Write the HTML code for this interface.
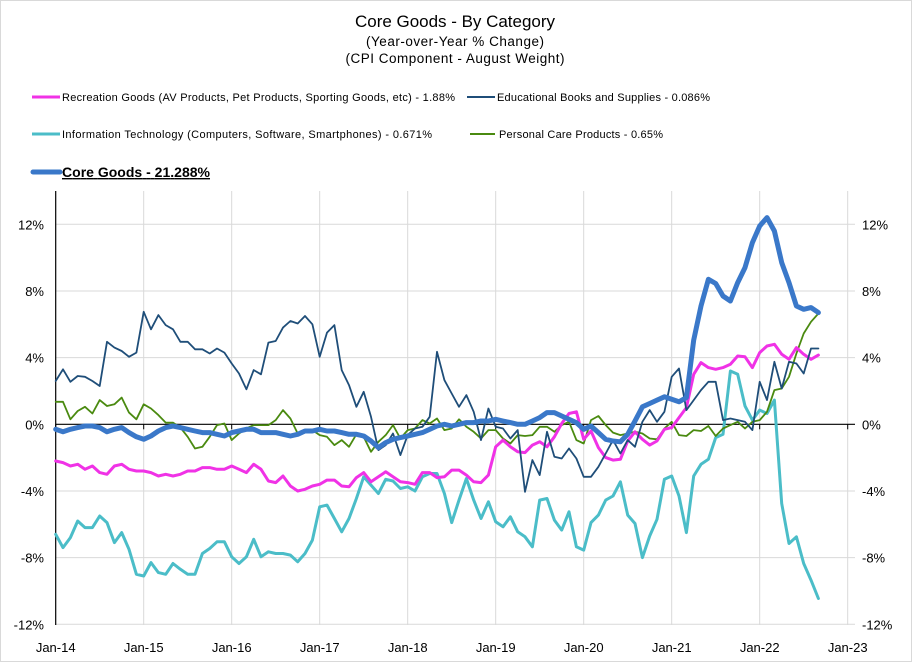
<!DOCTYPE html>
<html><head><meta charset="utf-8"><style>
body{margin:0;background:#fff}
svg{display:block;font-family:"Liberation Sans",sans-serif}
</style></head><body>
<svg id="chart" width="912" height="662" viewBox="0 0 912 662" xmlns="http://www.w3.org/2000/svg">
<rect x="0.5" y="0.5" width="911" height="661" fill="#fff" stroke="#d9d9d9"/>
<text x="455" y="27" text-anchor="middle" font-size="17" textLength="200">Core Goods - By Category</text>
<text x="455" y="46" text-anchor="middle" font-size="13.5" textLength="178">(Year-over-Year % Change)</text>
<text x="455" y="63" text-anchor="middle" font-size="13.5" textLength="219">(CPI Component - August Weight)</text>
<g>
<g><line x1="32" y1="97" x2="60" y2="97" stroke="#f032e6" stroke-width="3"/><text x="62" y="101" font-size="11" textLength="393">Recreation Goods (AV Products, Pet Products, Sporting Goods, etc) - 1.88%</text></g>
<g><line x1="467" y1="97" x2="495" y2="97" stroke="#1f4e79" stroke-width="2"/><text x="497" y="101" font-size="11" textLength="213">Educational Books and Supplies - 0.086%</text></g>
<g><line x1="32" y1="134" x2="60" y2="134" stroke="#4bbdc8" stroke-width="3"/><text x="62" y="138" font-size="11" textLength="370">Information Technology (Computers, Software, Smartphones) - 0.671%</text></g>
<g><line x1="470" y1="134" x2="495" y2="134" stroke="#4a8a10" stroke-width="2"/><text x="499" y="138" font-size="11" textLength="164">Personal Care Products - 0.65%</text></g>
<g><line x1="33" y1="172" x2="60" y2="172" stroke="#3a78c9" stroke-width="5" stroke-linecap="round"/><text x="62" y="177" font-size="14" font-weight="bold" text-decoration="underline" textLength="148">Core Goods - 21.288%</text></g>
</g>
<g id="grid"></g>
<g id="axes"></g>
<g id="series"></g>
</svg>
<script>
const yTicks=[12,8,4,0,-4,-8,-12];
const xTickLabels=["Jan-14","Jan-15","Jan-16","Jan-17","Jan-18","Jan-19","Jan-20","Jan-21","Jan-22","Jan-23"];
const coreGoods=[-0.3,-0.45,-0.3,-0.2,-0.1,-0.1,-0.2,-0.45,-0.3,-0.2,-0.5,-0.75,
-0.9,-0.7,-0.4,-0.2,-0.1,-0.2,-0.3,-0.4,-0.5,-0.5,-0.6,-0.7,
-0.5,-0.4,-0.3,-0.3,-0.5,-0.5,-0.5,-0.6,-0.7,-0.6,-0.4,-0.4,
-0.3,-0.4,-0.4,-0.5,-0.6,-0.6,-0.7,-1.0,-1.4,-1.1,-0.9,-0.8,
-0.7,-0.6,-0.5,-0.3,-0.1,0.0,-0.1,0.0,0.1,0.1,0.2,0.2,
0.3,0.2,0.1,0.0,0.0,0.2,0.4,0.7,0.7,0.5,0.3,0.1,
-0.3,-0.1,-0.5,-0.9,-1.0,-1.05,-0.6,0.2,1.05,1.25,1.45,1.65,
1.5,1.35,1.6,5.05,7.1,8.7,8.45,7.7,7.4,8.5,9.4,10.9,
11.9,12.4,11.6,9.7,8.5,7.1,6.9,7.0,6.7];
const recreation=[-2.2,-2.3,-2.5,-2.4,-2.7,-2.5,-2.9,-3.0,-2.5,-2.4,-2.7,-2.8,
-2.8,-2.9,-3.1,-3.0,-3.1,-3.0,-2.8,-2.8,-2.6,-2.6,-2.7,-2.7,
-2.5,-2.7,-2.9,-2.4,-2.7,-3.4,-3.5,-3.1,-3.7,-4.0,-3.9,-3.7,
-3.6,-3.35,-3.35,-3.7,-3.75,-3.2,-2.9,-3.45,-3.15,-2.85,-3.15,-3.45,
-3.5,-3.6,-2.9,-2.9,-3.2,-3.15,-2.75,-2.75,-3.05,-3.45,-3.5,-3.05,
-1.35,-0.95,-1.35,-1.65,-1.7,-1.25,-1.05,-1.35,-0.75,0.05,0.65,0.75,
-0.9,-0.4,-1.4,-2.0,-2.15,-2.1,-1.0,-0.45,-0.9,-1.25,-1.0,-0.3,
-0.2,0.4,1.0,3.0,3.7,3.4,3.3,3.4,3.6,4.1,4.05,3.4,
4.3,4.7,4.8,4.2,3.9,4.6,4.2,3.9,4.15];
const infoTech=[-6.6,-7.4,-6.8,-5.8,-6.2,-6.2,-5.5,-5.9,-7.1,-6.5,-7.5,-9.0,
-9.1,-8.3,-8.9,-9.0,-8.35,-8.7,-9.0,-9.0,-7.75,-7.45,-7.05,-7.05,
-7.95,-8.35,-7.95,-6.9,-7.95,-7.65,-7.75,-7.75,-7.85,-8.25,-7.75,-6.95,
-4.95,-4.85,-5.65,-6.45,-5.65,-4.45,-3.15,-3.65,-4.15,-3.3,-3.4,-3.85,
-3.75,-4.0,-3.15,-2.95,-2.95,-4.15,-5.9,-4.55,-3.25,-4.55,-5.65,-4.65,
-5.85,-6.15,-5.55,-6.45,-6.75,-7.35,-4.55,-4.45,-5.75,-6.35,-5.25,-7.35,
-7.55,-5.9,-5.45,-4.55,-4.3,-3.45,-5.45,-5.95,-8.0,-6.7,-5.7,-3.3,
-3.1,-4.3,-6.5,-3.1,-2.4,-2.1,-0.8,-0.6,3.2,3.0,1.1,0.25,
0.85,0.65,1.45,-4.75,-7.15,-6.75,-8.35,-9.35,-10.45];
const educational=[2.6,3.3,2.55,2.9,2.85,2.6,2.3,4.95,4.6,4.4,4.05,4.3,
6.75,5.7,6.55,5.95,5.7,4.95,4.95,4.5,4.5,4.25,4.55,4.3,
3.65,3.05,2.1,3.25,3.0,4.9,5.0,5.8,6.2,6.05,6.5,6.0,
4.05,5.5,5.95,3.25,2.35,1.05,1.95,0.45,-1.55,-1.25,-0.55,-1.85,
-0.65,-0.25,-0.15,0.45,4.35,2.65,1.85,1.05,1.75,0.75,-0.95,0.95,
-0.15,-0.25,-0.85,-0.35,-4.05,-2.15,-3.05,-0.45,-1.95,-2.05,-1.45,-2.05,
-3.15,-3.15,-2.55,-1.75,-0.95,-1.75,-0.95,-1.35,0.15,0.85,0.15,0.75,
2.85,3.35,0.85,1.45,2.05,2.55,2.55,0.25,0.35,0.25,0.15,-0.35,
2.55,1.45,3.75,2.15,3.75,3.65,3.05,4.55,4.55];
const personalCare=[1.35,1.35,0.3,0.8,1.05,0.65,1.45,1.1,1.2,1.6,0.7,0.3,
1.2,0.95,0.55,0.1,0.1,-0.2,-0.75,-1.45,-1.35,-0.75,-0.05,0.05,
-0.95,-0.55,-0.25,-0.05,-0.05,-0.05,0.25,0.85,0.35,-0.55,-0.5,-0.35,
-0.65,-0.75,-1.25,-0.95,-1.35,-0.6,-0.75,-1.65,-1.05,-0.65,-0.05,-0.85,
-0.35,-0.25,0.25,0.05,0.35,-0.35,-0.25,0.3,-0.15,-0.45,-0.85,-0.35,
-0.35,-0.85,-1.15,-0.65,-0.7,-0.65,-0.15,-0.15,-0.45,-0.05,0.15,-0.95,
-1.15,0.25,0.5,-0.05,-0.5,-0.65,-0.55,-0.45,-0.55,-0.85,-0.9,-0.25,
0.15,-0.65,-0.7,-0.35,-0.4,-0.1,-0.7,-0.25,-0.05,0.15,-0.25,0.15,
0.25,0.75,2.05,2.15,2.85,4.25,5.45,6.15,6.65];

const NS="http://www.w3.org/2000/svg";
const X0=55.7, PXM=88/12, Y0=424.3, PXV=200/12, TOP=191, BOT=625;
function xScale(i){return X0+i*PXM;}
function yScale(v){return Y0-v*PXV;}
function mk(tag,attrs,parent){const e=document.createElementNS(NS,tag);for(const k in attrs)e.setAttribute(k,attrs[k]);parent.appendChild(e);return e;}
const grid=document.getElementById('grid'),axes=document.getElementById('axes'),series=document.getElementById('series');
yTicks.forEach(v=>{
  if(v!==0){const l=mk('line',{x1:X0,x2:855,y1:yScale(v),y2:yScale(v),stroke:'#d9d9d9','stroke-width':1},grid);
  
  }
  const lbl=(v>0?'':'')+v+'%';
  const t1=mk('text',{x:44,y:yScale(v)+5,'text-anchor':'end','font-size':13},axes);t1.textContent=lbl;
  
  
  const t2=mk('text',{x:862,y:yScale(v)+5,'text-anchor':'start','font-size':13},axes);t2.textContent=lbl;
  
  
});
xTickLabels.forEach((s,k)=>{
  const x=xScale(k*12);
  if(k>0){const l=mk('line',{x1:x,x2:x,y1:TOP,y2:BOT,stroke:'#d9d9d9','stroke-width':1},grid);
  
  }
  const tk=mk('line',{x1:x,x2:x,y1:Y0,y2:Y0+5,stroke:'#000','stroke-width':1},axes);
  
  
  const t=mk('text',{x:x,y:652,'text-anchor':'middle','font-size':13},axes);t.textContent=s;
  
  
});
const za=mk('line',{x1:X0,x2:855,y1:Y0,y2:Y0,stroke:'#000','stroke-width':1.2},axes);


const ya=mk('line',{x1:X0,x2:X0,y1:TOP,y2:BOT,stroke:'#000','stroke-width':1.2},axes);


function draw(data,color,w,name){
  const d=data.map((v,i)=>(i?'L':'M')+xScale(i).toFixed(1)+','+yScale(v).toFixed(1)).join('');
  const p=mk('path',{d:d,fill:'none',stroke:color,'stroke-width':w,'stroke-linejoin':'round','stroke-linecap':'round'},series);
  
  
}
draw(infoTech,'#4bbdc8',3,'series-information-technology');
draw(personalCare,'#4a8a10',1.8,'series-personal-care');
draw(recreation,'#f032e6',3,'series-recreation-goods');
draw(educational,'#1f4e79',1.8,'series-educational-books');
draw(coreGoods,'#3a78c9',5,'series-core-goods');
</script>
</body></html>
